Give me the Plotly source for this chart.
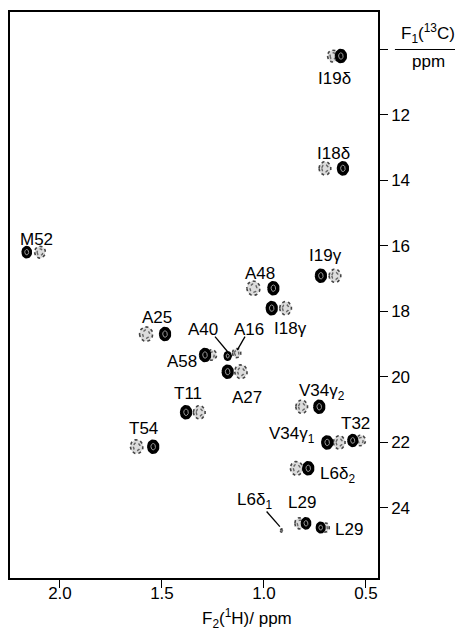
import numpy as np
import plotly.graph_objects as go

# ---------------- data ----------------
# Black (positive) cross peaks: F2(1H) ppm, F1(13C) ppm
black_x = [0.623, 0.613, 2.163, 0.721, 0.954, 0.962, 1.485, 1.289, 1.178, 1.178,
           1.382, 1.543, 0.729, 0.690, 0.565, 0.783, 0.794, 0.722]
black_y = [10.20, 13.63, 16.19, 16.91, 17.29, 17.90, 18.69, 19.33, 19.36, 19.84,
           21.08, 22.13, 20.91, 22.00, 21.94, 22.79, 24.47, 24.60]
# Grey (dotted, negative) cross peaks
grey_x = [0.662, 0.701, 2.098, 0.652, 1.052, 0.894, 1.578, 1.256, 1.134, 1.113,
          1.317, 1.624, 0.815, 0.631, 0.526, 0.840, 0.824, 0.700, 0.913]
grey_y = [10.20, 13.63, 16.19, 16.91, 17.29, 17.90, 18.69, 19.33, 19.27, 19.84,
          21.08, 22.13, 20.91, 22.00, 21.94, 22.79, 24.47, 24.60, 24.69]

# Assignment labels
label_text = ["I19δ", "I18δ", "M52", "I19γ", "A48", "I18γ", "A25", "A40", "A16",
              "A58", "A27", "T11", "T54", "V34γ<sub>2</sub>", "V34γ<sub>1</sub>",
              "T32", "L6δ<sub>2</sub>", "L6δ<sub>1</sub>", "L29", "L29"]
label_x = [0.655, 0.660, 2.114, 0.700, 1.020, 0.870, 1.526, 1.300, 1.072,
           1.400, 1.085, 1.371, 1.592, 0.715, 0.862, 0.549, 0.640, 1.045, 0.815, 0.585]
label_y = [10.90, 13.18, 15.80, 16.28, 16.83, 18.52, 18.19, 18.56, 18.56,
           19.54, 20.62, 20.51, 21.58, 20.45, 21.77, 21.41, 22.98, 23.80, 23.84, 24.67]

# Leader lines (label end -> peak end)
lead_x0 = [1.240, 1.093, 0.987]
lead_y0 = [18.77, 18.77, 24.11]
lead_x1 = [1.178, 1.131, 0.922]
lead_y1 = [19.23, 19.18, 24.57]

x_ticks = [2.0, 1.5, 1.0, 0.5]
y_ticks = [10, 12, 14, 16, 18, 20, 22, 24]
y_ticklabels = ["", "12", "14", "16", "18", "20", "22", "24"]

# ---------------- style ----------------
PX_X = 1 / 204.0     # ppm per pixel, F2
PX_Y = 1 / 32.75     # ppm per pixel, F1
black_scale = [1.0, 1.0, 0.85, 1.0, 1.0, 1.0, 1.0, 1.0, 0.65, 1.0,
               1.0, 1.0, 1.0, 1.0, 0.9, 1.0, 0.85, 0.8]
grey_scale = [0.9, 1.0, 0.9, 1.0, 1.1, 1.0, 1.1, 0.8, 0.7, 1.05,
              1.0, 1.05, 1.0, 1.0, 0.8, 1.05, 0.85, 0.7, 0.25]
FONT = "Liberation Sans, Arial, Helvetica, sans-serif"
FS = 17


def ellipses(xs, ys, scales, rx_px, ry_px, n=36):
    ox, oy = [], []
    t = np.linspace(0, 2 * np.pi, n)
    for cx, cy, s in zip(xs, ys, scales):
        ox += list(cx + s * rx_px * PX_X * np.cos(t)) + [None]
        oy += list(cy + s * ry_px * PX_Y * np.sin(t)) + [None]
    return ox, oy


fig = go.Figure()

# grey dotted peaks
gx, gy = ellipses(grey_x, grey_y, grey_scale, 6.0, 6.6)
fig.add_trace(go.Scatter(x=gx, y=gy, mode="lines", fill="toself",
                         fillcolor="#dcdcdc",
                         line=dict(color="#444", width=1.6, dash="dot"),
                         hoverinfo="skip", showlegend=False))
gx2, gy2 = ellipses(grey_x, grey_y, grey_scale, 3.2, 3.8)
fig.add_trace(go.Scatter(x=gx2, y=gy2, mode="lines",
                         line=dict(color="#666", width=1.4, dash="dot"),
                         hoverinfo="skip", showlegend=False))

# black solid peaks
bx, by = ellipses(black_x, black_y, black_scale, 5.5, 6.6)
fig.add_trace(go.Scatter(x=bx, y=by, mode="lines", fill="toself",
                         fillcolor="black", line=dict(color="black", width=1.5),
                         hoverinfo="skip", showlegend=False))
bx2, by2 = ellipses(black_x, black_y, black_scale, 2.3, 3.2)
fig.add_trace(go.Scatter(x=bx2, y=by2, mode="lines",
                         line=dict(color="#9a9a9a", width=1.0),
                         hoverinfo="skip", showlegend=False))

# leader lines
lx, ly = [], []
for a, b, c, d in zip(lead_x0, lead_y0, lead_x1, lead_y1):
    lx += [a, c, None]
    ly += [b, d, None]
fig.add_trace(go.Scatter(x=lx, y=ly, mode="lines",
                         line=dict(color="black", width=1.3),
                         hoverinfo="skip", showlegend=False))

for t, x, y in zip(label_text, label_x, label_y):
    fig.add_annotation(x=x, y=y, xref="x", yref="y", text=t, showarrow=False,
                       font=dict(family=FONT, size=FS, color="black"),
                       xanchor="center", yanchor="middle")

# F1 axis title drawn as a fraction next to the 10 ppm tick
fig.add_annotation(xref="paper", yref="y", x=1.136, y=10, yshift=1,
                   text="F<sub>1</sub>(<sup>13</sup>C)", showarrow=False,
                   font=dict(family=FONT, size=FS, color="black"),
                   xanchor="center", yanchor="bottom")
fig.add_annotation(xref="paper", yref="y", x=1.136, y=10, yshift=-1,
                   text="ppm", showarrow=False,
                   font=dict(family=FONT, size=FS, color="black"),
                   xanchor="center", yanchor="top")
fig.add_shape(type="line", xref="paper", yref="y", x0=1.046, x1=1.23, y0=10, y1=10,
              line=dict(color="black", width=1.2))

# F2 axis title
fig.add_annotation(xref="paper", yref="paper", x=0.643, y=-0.072,
                   text="F<sub>2</sub>(<sup>1</sup>H)/ ppm", showarrow=False,
                   font=dict(family=FONT, size=FS, color="black"),
                   xanchor="center", yanchor="middle")

# the page body has an 8 px margin: figure sized so that it fills the window
fig.update_layout(
    width=455, height=624,
    margin=dict(l=2, r=85, t=4, b=54, autoexpand=False),
    paper_bgcolor="white", plot_bgcolor="white",
    font=dict(family=FONT, size=FS, color="black"),
    xaxis=dict(range=[2.245, 0.441], tickvals=x_ticks,
               ticktext=[f"{v:.1f}" for v in x_ticks],
               ticks="outside", ticklen=8, tickwidth=1.2, tickcolor="black",
               ticklabelstandoff=-9,
               showline=True, linecolor="black", linewidth=1.5, mirror=True,
               showgrid=False, zeroline=False, automargin=False),
    yaxis=dict(range=[26.14, 8.855], side="right", tickvals=y_ticks,
               ticktext=y_ticklabels,
               ticks="outside", ticklen=8, tickwidth=1.2, tickcolor="black",
               showline=True, linecolor="black", linewidth=1.5, mirror=True,
               showgrid=False, zeroline=False, automargin=False),
)

fig.write_html("out.html")
